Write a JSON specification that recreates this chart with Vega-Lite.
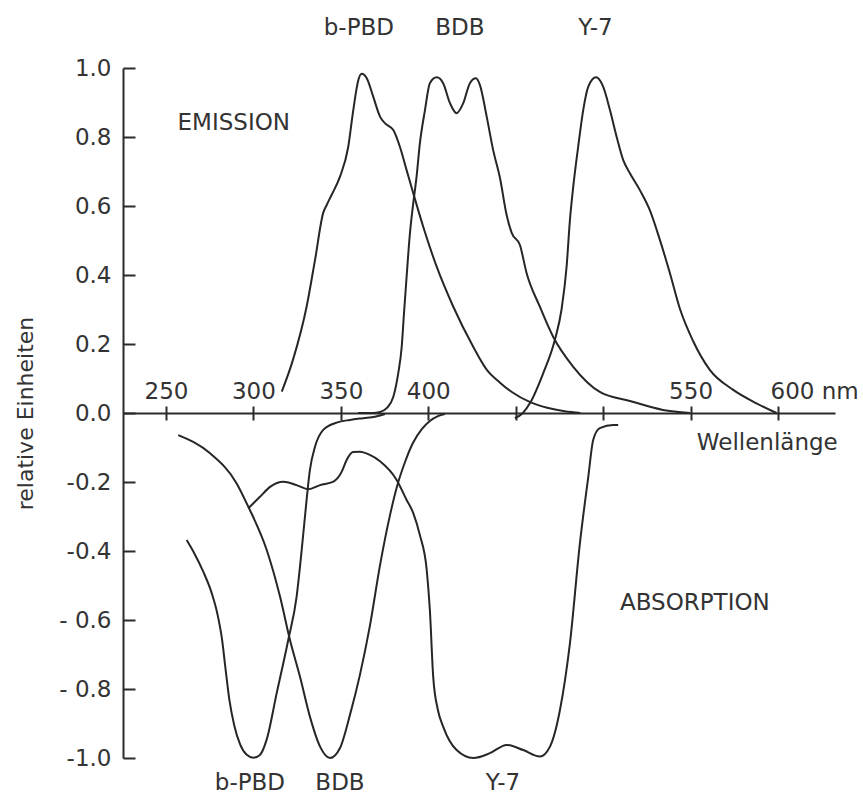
{
  "$schema": "https://vega.github.io/schema/vega-lite/v6.json",
  "width": 712,
  "height": 690,
  "autosize": {"type": "none"},
  "padding": {"left": 123, "top": 68, "right": 28, "bottom": 42},
  "background": "white",
  "config": {
    "view": {"stroke": null},
    "font": "DejaVu Sans",
    "axis": {"grid": false, "domainColor": "#2b2b2b", "tickColor": "#2b2b2b", "domainWidth": 2, "tickWidth": 2, "labelColor": "#333333", "titleColor": "#333333", "labelFont": "DejaVu Sans", "titleFont": "DejaVu Sans", "labelFontSize": 23, "titleFontSize": 22, "titleFontWeight": "normal"}
  },
  "datasets": {
    "curves": [
      {"curve": "em_bPBD", "nm": 316.2, "v": 0.062},
      {"curve": "em_bPBD", "nm": 322.6, "v": 0.154},
      {"curve": "em_bPBD", "nm": 330.4, "v": 0.308},
      {"curve": "em_bPBD", "nm": 335.2, "v": 0.443},
      {"curve": "em_bPBD", "nm": 339.9, "v": 0.58},
      {"curve": "em_bPBD", "nm": 341.9, "v": 0.603},
      {"curve": "em_bPBD", "nm": 344.7, "v": 0.632},
      {"curve": "em_bPBD", "nm": 349.5, "v": 0.685},
      {"curve": "em_bPBD", "nm": 354.2, "v": 0.771},
      {"curve": "em_bPBD", "nm": 357.1, "v": 0.878},
      {"curve": "em_bPBD", "nm": 360.0, "v": 0.965},
      {"curve": "em_bPBD", "nm": 361.9, "v": 0.983},
      {"curve": "em_bPBD", "nm": 364.8, "v": 0.97},
      {"curve": "em_bPBD", "nm": 368.5, "v": 0.917},
      {"curve": "em_bPBD", "nm": 372.4, "v": 0.859},
      {"curve": "em_bPBD", "nm": 375.2, "v": 0.84},
      {"curve": "em_bPBD", "nm": 380.0, "v": 0.82},
      {"curve": "em_bPBD", "nm": 383.8, "v": 0.771},
      {"curve": "em_bPBD", "nm": 387.6, "v": 0.704},
      {"curve": "em_bPBD", "nm": 391.4, "v": 0.637},
      {"curve": "em_bPBD", "nm": 397.1, "v": 0.54},
      {"curve": "em_bPBD", "nm": 404.8, "v": 0.424},
      {"curve": "em_bPBD", "nm": 414.3, "v": 0.308},
      {"curve": "em_bPBD", "nm": 425.7, "v": 0.192},
      {"curve": "em_bPBD", "nm": 433.5, "v": 0.125},
      {"curve": "em_bPBD", "nm": 441.0, "v": 0.088},
      {"curve": "em_bPBD", "nm": 448.0, "v": 0.06},
      {"curve": "em_bPBD", "nm": 458.0, "v": 0.032},
      {"curve": "em_bPBD", "nm": 468.0, "v": 0.015},
      {"curve": "em_bPBD", "nm": 478.0, "v": 0.005},
      {"curve": "em_bPBD", "nm": 487.0, "v": 0.0},

      {"curve": "em_BDB", "nm": 359.8, "v": 0.0},
      {"curve": "em_BDB", "nm": 368.5, "v": 0.0},
      {"curve": "em_BDB", "nm": 372.4, "v": 0.003},
      {"curve": "em_BDB", "nm": 376.2, "v": 0.014},
      {"curve": "em_BDB", "nm": 380.0, "v": 0.047},
      {"curve": "em_BDB", "nm": 382.8, "v": 0.115},
      {"curve": "em_BDB", "nm": 384.8, "v": 0.192},
      {"curve": "em_BDB", "nm": 386.1, "v": 0.289},
      {"curve": "em_BDB", "nm": 387.6, "v": 0.395},
      {"curve": "em_BDB", "nm": 389.5, "v": 0.521},
      {"curve": "em_BDB", "nm": 391.4, "v": 0.608},
      {"curve": "em_BDB", "nm": 393.3, "v": 0.685},
      {"curve": "em_BDB", "nm": 395.2, "v": 0.782},
      {"curve": "em_BDB", "nm": 398.1, "v": 0.878},
      {"curve": "em_BDB", "nm": 400.9, "v": 0.956},
      {"curve": "em_BDB", "nm": 404.8, "v": 0.973},
      {"curve": "em_BDB", "nm": 408.5, "v": 0.956},
      {"curve": "em_BDB", "nm": 412.4, "v": 0.898},
      {"curve": "em_BDB", "nm": 416.2, "v": 0.869},
      {"curve": "em_BDB", "nm": 420.0, "v": 0.898},
      {"curve": "em_BDB", "nm": 423.8, "v": 0.956},
      {"curve": "em_BDB", "nm": 427.2, "v": 0.97},
      {"curve": "em_BDB", "nm": 429.5, "v": 0.951},
      {"curve": "em_BDB", "nm": 433.4, "v": 0.859},
      {"curve": "em_BDB", "nm": 437.1, "v": 0.762},
      {"curve": "em_BDB", "nm": 441.0, "v": 0.681},
      {"curve": "em_BDB", "nm": 444.8, "v": 0.574},
      {"curve": "em_BDB", "nm": 447.7, "v": 0.522},
      {"curve": "em_BDB", "nm": 452.4, "v": 0.487},
      {"curve": "em_BDB", "nm": 456.2, "v": 0.406},
      {"curve": "em_BDB", "nm": 463.8, "v": 0.308},
      {"curve": "em_BDB", "nm": 471.4, "v": 0.221},
      {"curve": "em_BDB", "nm": 482.9, "v": 0.134},
      {"curve": "em_BDB", "nm": 498.1, "v": 0.061},
      {"curve": "em_BDB", "nm": 515.3, "v": 0.035},
      {"curve": "em_BDB", "nm": 534.2, "v": 0.009},
      {"curve": "em_BDB", "nm": 549.6, "v": 0.0},

      {"curve": "em_Y7", "nm": 449.5, "v": -0.015},
      {"curve": "em_Y7", "nm": 454.1, "v": 0.0},
      {"curve": "em_Y7", "nm": 458.1, "v": 0.028},
      {"curve": "em_Y7", "nm": 465.7, "v": 0.115},
      {"curve": "em_Y7", "nm": 472.4, "v": 0.212},
      {"curve": "em_Y7", "nm": 476.2, "v": 0.3},
      {"curve": "em_Y7", "nm": 479.1, "v": 0.424},
      {"curve": "em_Y7", "nm": 481.0, "v": 0.559},
      {"curve": "em_Y7", "nm": 482.9, "v": 0.656},
      {"curve": "em_Y7", "nm": 485.7, "v": 0.771},
      {"curve": "em_Y7", "nm": 488.6, "v": 0.878},
      {"curve": "em_Y7", "nm": 491.5, "v": 0.946},
      {"curve": "em_Y7", "nm": 495.9, "v": 0.973},
      {"curve": "em_Y7", "nm": 500.0, "v": 0.946},
      {"curve": "em_Y7", "nm": 503.9, "v": 0.878},
      {"curve": "em_Y7", "nm": 507.7, "v": 0.801},
      {"curve": "em_Y7", "nm": 511.5, "v": 0.733},
      {"curve": "em_Y7", "nm": 515.3, "v": 0.695},
      {"curve": "em_Y7", "nm": 521.0, "v": 0.646},
      {"curve": "em_Y7", "nm": 526.7, "v": 0.588},
      {"curve": "em_Y7", "nm": 532.5, "v": 0.501},
      {"curve": "em_Y7", "nm": 538.2, "v": 0.405},
      {"curve": "em_Y7", "nm": 543.9, "v": 0.302},
      {"curve": "em_Y7", "nm": 551.5, "v": 0.208},
      {"curve": "em_Y7", "nm": 561.0, "v": 0.125},
      {"curve": "em_Y7", "nm": 574.4, "v": 0.067},
      {"curve": "em_Y7", "nm": 587.7, "v": 0.028},
      {"curve": "em_Y7", "nm": 599.2, "v": 0.0},

      {"curve": "ab_bPBD", "nm": 261.8, "v": -0.368},
      {"curve": "ab_bPBD", "nm": 266.0, "v": -0.405},
      {"curve": "ab_bPBD", "nm": 271.3, "v": -0.46},
      {"curve": "ab_bPBD", "nm": 276.0, "v": -0.52},
      {"curve": "ab_bPBD", "nm": 279.5, "v": -0.585},
      {"curve": "ab_bPBD", "nm": 282.0, "v": -0.655},
      {"curve": "ab_bPBD", "nm": 284.0, "v": -0.74},
      {"curve": "ab_bPBD", "nm": 286.2, "v": -0.83},
      {"curve": "ab_bPBD", "nm": 289.0, "v": -0.905},
      {"curve": "ab_bPBD", "nm": 292.5, "v": -0.962},
      {"curve": "ab_bPBD", "nm": 296.0, "v": -0.99},
      {"curve": "ab_bPBD", "nm": 299.9, "v": -0.999},
      {"curve": "ab_bPBD", "nm": 303.7, "v": -0.991},
      {"curve": "ab_bPBD", "nm": 307.6, "v": -0.946},
      {"curve": "ab_bPBD", "nm": 313.3, "v": -0.812},
      {"curve": "ab_bPBD", "nm": 319.9, "v": -0.658},
      {"curve": "ab_bPBD", "nm": 324.7, "v": -0.532},
      {"curve": "ab_bPBD", "nm": 327.6, "v": -0.397},
      {"curve": "ab_bPBD", "nm": 330.4, "v": -0.252},
      {"curve": "ab_bPBD", "nm": 332.3, "v": -0.165},
      {"curve": "ab_bPBD", "nm": 335.2, "v": -0.098},
      {"curve": "ab_bPBD", "nm": 339.9, "v": -0.049},
      {"curve": "ab_bPBD", "nm": 347.6, "v": -0.028},
      {"curve": "ab_bPBD", "nm": 355.2, "v": -0.02},
      {"curve": "ab_bPBD", "nm": 362.8, "v": -0.015},
      {"curve": "ab_bPBD", "nm": 369.5, "v": -0.011},
      {"curve": "ab_bPBD", "nm": 375.2, "v": -0.003},

      {"curve": "ab_BDB", "nm": 257.0, "v": -0.064},
      {"curve": "ab_BDB", "nm": 275.2, "v": -0.117},
      {"curve": "ab_BDB", "nm": 290.4, "v": -0.204},
      {"curve": "ab_BDB", "nm": 297.1, "v": -0.272},
      {"curve": "ab_BDB", "nm": 307.6, "v": -0.397},
      {"curve": "ab_BDB", "nm": 315.2, "v": -0.532},
      {"curve": "ab_BDB", "nm": 320.9, "v": -0.658},
      {"curve": "ab_BDB", "nm": 326.6, "v": -0.764},
      {"curve": "ab_BDB", "nm": 332.3, "v": -0.88},
      {"curve": "ab_BDB", "nm": 338.1, "v": -0.967},
      {"curve": "ab_BDB", "nm": 343.8, "v": -1.0},
      {"curve": "ab_BDB", "nm": 349.5, "v": -0.971},
      {"curve": "ab_BDB", "nm": 355.2, "v": -0.875},
      {"curve": "ab_BDB", "nm": 360.9, "v": -0.759},
      {"curve": "ab_BDB", "nm": 366.6, "v": -0.617},
      {"curve": "ab_BDB", "nm": 372.4, "v": -0.441},
      {"curve": "ab_BDB", "nm": 378.1, "v": -0.296},
      {"curve": "ab_BDB", "nm": 382.1, "v": -0.213},
      {"curve": "ab_BDB", "nm": 386.7, "v": -0.142},
      {"curve": "ab_BDB", "nm": 391.2, "v": -0.087},
      {"curve": "ab_BDB", "nm": 396.4, "v": -0.046},
      {"curve": "ab_BDB", "nm": 400.9, "v": -0.023},
      {"curve": "ab_BDB", "nm": 405.5, "v": -0.009},
      {"curve": "ab_BDB", "nm": 409.5, "v": -0.003},

      {"curve": "ab_Y7", "nm": 297.1, "v": -0.276},
      {"curve": "ab_Y7", "nm": 303.7, "v": -0.243},
      {"curve": "ab_Y7", "nm": 309.5, "v": -0.214},
      {"curve": "ab_Y7", "nm": 317.1, "v": -0.199},
      {"curve": "ab_Y7", "nm": 324.7, "v": -0.209},
      {"curve": "ab_Y7", "nm": 331.4, "v": -0.221},
      {"curve": "ab_Y7", "nm": 338.1, "v": -0.209},
      {"curve": "ab_Y7", "nm": 345.7, "v": -0.199},
      {"curve": "ab_Y7", "nm": 350.5, "v": -0.17},
      {"curve": "ab_Y7", "nm": 353.3, "v": -0.136},
      {"curve": "ab_Y7", "nm": 356.9, "v": -0.113},
      {"curve": "ab_Y7", "nm": 360.9, "v": -0.112},
      {"curve": "ab_Y7", "nm": 366.0, "v": -0.12},
      {"curve": "ab_Y7", "nm": 372.4, "v": -0.14},
      {"curve": "ab_Y7", "nm": 381.9, "v": -0.194},
      {"curve": "ab_Y7", "nm": 387.6, "v": -0.252},
      {"curve": "ab_Y7", "nm": 391.4, "v": -0.29},
      {"curve": "ab_Y7", "nm": 395.2, "v": -0.354},
      {"curve": "ab_Y7", "nm": 399.1, "v": -0.455},
      {"curve": "ab_Y7", "nm": 400.9, "v": -0.571},
      {"curve": "ab_Y7", "nm": 402.8, "v": -0.764},
      {"curve": "ab_Y7", "nm": 405.5, "v": -0.861},
      {"curve": "ab_Y7", "nm": 408.5, "v": -0.909},
      {"curve": "ab_Y7", "nm": 416.2, "v": -0.977},
      {"curve": "ab_Y7", "nm": 425.7, "v": -1.0},
      {"curve": "ab_Y7", "nm": 435.2, "v": -0.986},
      {"curve": "ab_Y7", "nm": 444.8, "v": -0.962},
      {"curve": "ab_Y7", "nm": 454.3, "v": -0.977},
      {"curve": "ab_Y7", "nm": 463.8, "v": -0.996},
      {"curve": "ab_Y7", "nm": 469.6, "v": -0.967},
      {"curve": "ab_Y7", "nm": 475.3, "v": -0.861},
      {"curve": "ab_Y7", "nm": 481.0, "v": -0.668},
      {"curve": "ab_Y7", "nm": 486.7, "v": -0.378},
      {"curve": "ab_Y7", "nm": 491.5, "v": -0.185},
      {"curve": "ab_Y7", "nm": 494.3, "v": -0.078},
      {"curve": "ab_Y7", "nm": 498.1, "v": -0.044},
      {"curve": "ab_Y7", "nm": 505.8, "v": -0.035},
      {"curve": "ab_Y7", "nm": 508.6, "v": -0.035}
    ],
    "labels": [
      {"t": "b-PBD", "nm": 360.3, "v": 1.096, "a": "center"},
      {"t": "BDB", "nm": 418.1, "v": 1.096, "a": "center"},
      {"t": "Y-7", "nm": 495.6, "v": 1.096, "a": "center"},
      {"t": "b-PBD", "nm": 298.0, "v": -1.093, "a": "center"},
      {"t": "BDB", "nm": 349.5, "v": -1.093, "a": "center"},
      {"t": "Y-7", "nm": 442.7, "v": -1.093, "a": "center"},
      {"t": "EMISSION", "nm": 320.9, "v": 0.82, "a": "right"},
      {"t": "ABSORPTION", "nm": 509.6, "v": -0.571, "a": "left"},
      {"t": "Wellenlänge", "nm": 553.6, "v": -0.107, "a": "left"}
    ]
  },
  "layer": [
    {
      "data": {"name": "curves"},
      "mark": {"type": "line", "interpolate": "monotone", "color": "#262626", "strokeWidth": 2},
      "encoding": {
        "x": {
          "field": "nm", "type": "quantitative",
          "scale": {"domain": [225.4, 632.6], "nice": false, "zero": false},
          "axis": {
            "orient": "top", "offset": -345, "title": null,
            "values": [250, 300, 350, 400, 450, 500, 550, 600],
            "tickSize": 7, "labelPadding": 3, "labelFlush": false, "labelOverlap": false, "labelBound": false,
            "labelExpr": "datum.value == 450 || datum.value == 500 ? '' : (datum.value == 600 ? '600 nm' : datum.label)",
            "labelAlign": {"condition": {"test": "datum.value == 600", "value": "left"}, "value": "center"},
            "labelOffset": {"condition": {"test": "datum.value == 600", "value": -8}, "value": 0}
          }
        },
        "y": {
          "field": "v", "type": "quantitative",
          "scale": {"domain": [-1, 1], "nice": false, "zero": false},
          "axis": {
            "orient": "left", "title": "relative Einheiten",
            "values": [-1, -0.8, -0.6, -0.4, -0.2, 0, 0.2, 0.4, 0.6, 0.8, 1],
            "tickSize": -12, "labelPadding": 24, "labelOverlap": false, "labelBound": false, "labelFlush": false,
            "labelExpr": "datum.value < -0.5 && datum.value > -0.9 ? '- ' + format(-datum.value, '.1f') : (datum.value < 0 ? '-' + format(-datum.value, '.1f') : format(datum.value, '.1f'))",
            "titleX": -98, "titleY": 345, "titleAngle": -90, "titleBaseline": "middle", "titleAlign": "center"
          }
        },
        "detail": {"field": "curve"}
      }
    },
    {
      "data": {"name": "curves"},
      "mark": {"type": "line", "opacity": 0},
      "encoding": {
        "x": {
          "field": "nm", "type": "quantitative",
          "axis": {"orient": "bottom", "offset": -345, "title": null, "values": [250, 300, 350, 400, 450, 500, 550, 600], "tickSize": 7, "labels": false, "domain": false}
        },
        "y": {"field": "v", "type": "quantitative"},
        "detail": {"field": "curve"}
      }
    },
    {
      "data": {"name": "labels"},
      "transform": [{"filter": "datum.a == 'center'"}],
      "mark": {"type": "text", "align": "center", "baseline": "alphabetic", "fontSize": 23, "color": "#333333", "font": "DejaVu Sans"},
      "encoding": {
        "x": {"field": "nm", "type": "quantitative", "axis": null},
        "y": {"field": "v", "type": "quantitative"},
        "text": {"field": "t"}
      }
    },
    {
      "data": {"name": "labels"},
      "transform": [{"filter": "datum.a == 'right'"}],
      "mark": {"type": "text", "align": "right", "baseline": "alphabetic", "fontSize": 23, "color": "#333333", "font": "DejaVu Sans"},
      "encoding": {
        "x": {"field": "nm", "type": "quantitative", "axis": null},
        "y": {"field": "v", "type": "quantitative"},
        "text": {"field": "t"}
      }
    },
    {
      "data": {"name": "labels"},
      "transform": [{"filter": "datum.a == 'left'"}],
      "mark": {"type": "text", "align": "left", "baseline": "alphabetic", "fontSize": 23, "color": "#333333", "font": "DejaVu Sans"},
      "encoding": {
        "x": {"field": "nm", "type": "quantitative", "axis": null},
        "y": {"field": "v", "type": "quantitative"},
        "text": {"field": "t"}
      }
    }
  ],
  "resolve": {"axis": {"x": "independent"}}
}
